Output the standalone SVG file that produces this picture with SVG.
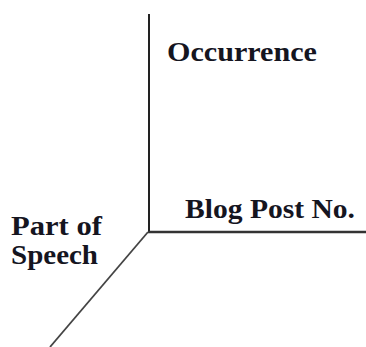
<svg xmlns="http://www.w3.org/2000/svg" width="366" height="347" viewBox="0 0 366 347">
<style>
.lbl{font-family:'Liberation Serif','Times New Roman',serif;font-weight:700;font-size:28px;fill:#15151f;}
.ax{stroke:#222;stroke-width:2;fill:none;}
</style>
<rect width="366" height="347" fill="#fff"/>
<g id="connectors">
<line class="ax" x1="149" y1="14" x2="149" y2="233"/>
<line class="ax" x1="148" y1="232" x2="366" y2="232" style="stroke:#333;stroke-width:2.5"/>
<line class="ax" x1="148" y1="232" x2="50" y2="347" style="stroke:#444;stroke-width:1.8"/>
</g>
<g id="occurrence"><text class="lbl" x="167" y="61" textLength="150" lengthAdjust="spacingAndGlyphs">Occurrence</text></g>
<g id="blogpost"><text class="lbl" x="185" y="218" textLength="170" lengthAdjust="spacingAndGlyphs">Blog Post No.</text></g>
<g id="partofspeech">
<text class="lbl" x="11" y="235" textLength="91" lengthAdjust="spacingAndGlyphs">Part of</text>
<text class="lbl" x="11" y="264" textLength="87" lengthAdjust="spacingAndGlyphs">Speech</text>
</g>
</svg>
